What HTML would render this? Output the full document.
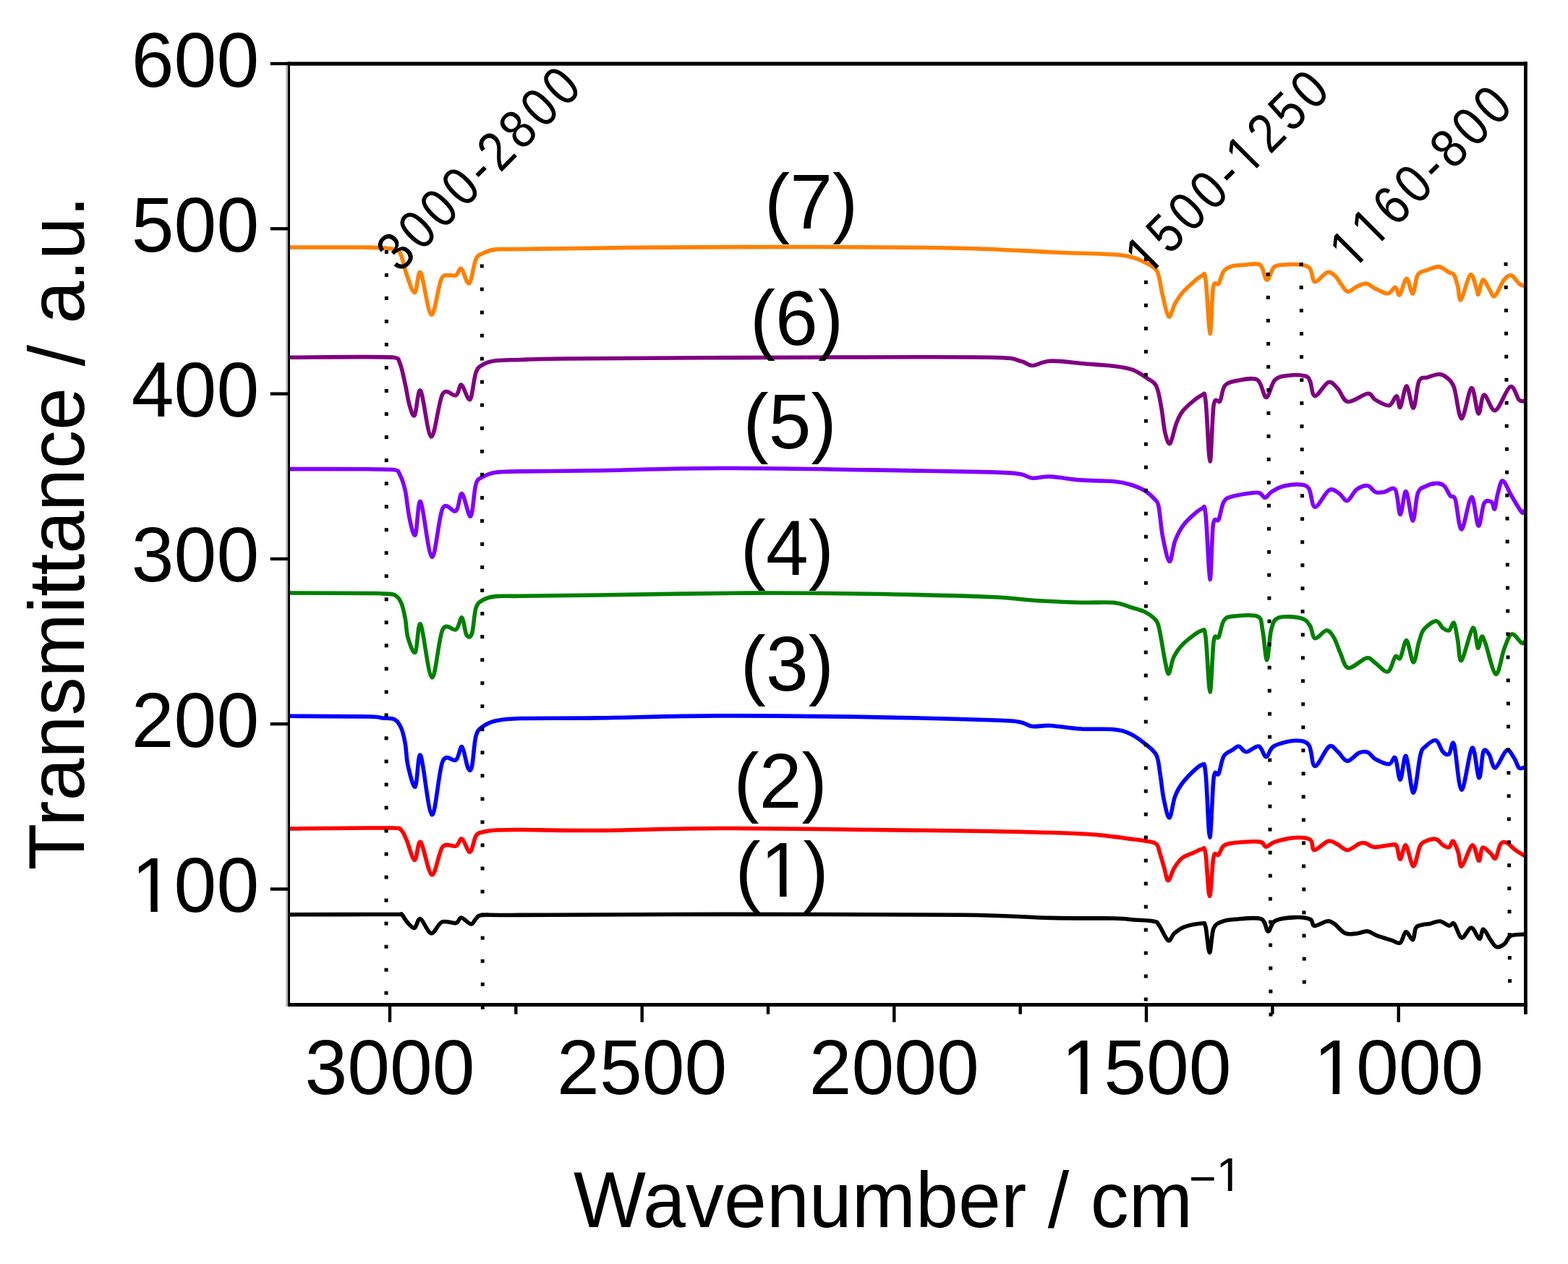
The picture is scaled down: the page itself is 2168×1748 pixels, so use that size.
<!DOCTYPE html><html><head><meta charset="utf-8"><title>FTIR spectra</title>
<style>html,body{margin:0;padding:0;background:#fff;}svg{display:block;}text{font-kerning:none;}</style></head><body>
<svg width="2168" height="1748" viewBox="0 0 2168 1748">
<defs><clipPath id="c1" clipPathUnits="userSpaceOnUse"><path clip-rule="evenodd" d="M-5,-137.4h245.1v190.3h-245.1zM6.74,-8.50H26.58V1.5H6.74zM35.92,-8.50H54.93V1.5H35.92z"/></clipPath><clipPath id="c2" clipPathUnits="userSpaceOnUse"><path clip-rule="evenodd" d="M-5,-137.4h245.1v190.3h-245.1zM6.74,-8.50H26.58V1.5H6.74zM35.92,-8.50H54.93V1.5H35.92z"/></clipPath><clipPath id="c3" clipPathUnits="userSpaceOnUse"><path clip-rule="evenodd" d="M-5,-137.4h186.4v190.3h-186.4zM6.74,-8.50H26.58V1.5H6.74zM35.92,-8.50H54.93V1.5H35.92z"/></clipPath><clipPath id="c4" clipPathUnits="userSpaceOnUse"><path clip-rule="evenodd" d="M-5,-84.5h46.1v117.0h-46.1zM3.76,-5.46H16.35V1.5H3.76zM22.09,-5.46H34.17V1.5H22.09z"/></clipPath><clipPath id="c5" clipPathUnits="userSpaceOnUse"><path clip-rule="evenodd" d="M-5,-137.4h139.2v190.3h-139.2zM41.94,-8.50H61.78V1.5H41.94zM71.12,-8.50H90.13V1.5H71.12z"/></clipPath><clipPath id="c6" clipPathUnits="userSpaceOnUse"><path clip-rule="evenodd" d="M-5,-98.8h435.4v136.8h-435.4zM4.57,-6.28H19.11V1.5H4.57zM25.83,-6.28H39.78V1.5H25.83zM233.35,-6.28H247.89V1.5H233.35zM254.61,-6.28H268.56V1.5H254.61z"/></clipPath><clipPath id="c7" clipPathUnits="userSpaceOnUse"><path clip-rule="evenodd" d="M-5,-98.8h386.2v136.8h-386.2zM4.57,-6.28H19.11V1.5H4.57zM25.83,-6.28H39.78V1.5H25.83zM53.71,-6.28H68.26V1.5H53.71zM74.98,-6.28H88.93V1.5H74.98z"/></clipPath></defs>
<rect width="2168" height="1748" fill="#fff"/>
<g fill="none" stroke-width="5.6" stroke-linejoin="round" stroke-linecap="round">
<path d="M401.0,1264.7C426.3,1264.7 527.2,1264.5 553.0,1264.5C556.0,1264.5 554.2,1263.1 556.0,1265.0C557.8,1266.9 560.6,1272.8 563.5,1275.8C566.4,1278.8 570.2,1284.1 573.2,1283.2C576.2,1282.3 577.5,1269.3 581.3,1270.6C585.1,1271.8 591.2,1290.0 596.2,1290.7C601.2,1291.4 605.3,1277.4 611.0,1275.0C616.7,1272.6 625.9,1277.5 630.4,1276.5C634.9,1275.5 634.3,1268.8 637.8,1269.0C641.3,1269.2 647.7,1277.8 651.2,1278.0C654.7,1278.2 655.9,1272.0 658.6,1269.9C661.3,1267.8 658.6,1266.2 667.5,1265.4C677.7,1264.7 667.5,1265.6 720.0,1265.4C774.2,1265.2 891.4,1264.4 992.6,1264.4C1093.8,1264.4 1250.3,1264.4 1327.0,1265.2C1403.7,1266.0 1417.0,1268.6 1452.5,1269.4C1488.0,1270.2 1520.8,1269.6 1540.0,1270.0C1559.2,1270.4 1558.6,1271.3 1567.9,1272.0C1577.2,1272.7 1589.9,1272.9 1595.7,1274.2C1601.5,1275.5 1599.5,1275.3 1602.7,1279.7C1606.0,1284.1 1611.7,1298.7 1615.2,1300.6C1618.7,1302.5 1619.9,1294.0 1623.6,1290.9C1627.3,1287.8 1631.2,1284.1 1637.5,1281.8C1643.8,1279.5 1656.3,1277.1 1661.2,1277.0C1666.1,1276.9 1664.9,1274.4 1666.8,1281.1C1668.7,1287.8 1670.5,1316.9 1672.4,1317.4C1674.3,1317.9 1675.0,1291.1 1678.0,1283.9C1681.0,1276.7 1685.6,1276.3 1690.5,1274.2C1695.4,1272.1 1698.4,1272.0 1707.2,1271.4C1716.0,1270.8 1735.7,1267.9 1743.4,1270.7C1751.1,1273.5 1749.9,1287.6 1753.2,1288.1C1756.5,1288.6 1756.7,1276.8 1763.0,1273.5C1769.3,1270.2 1782.7,1268.9 1790.8,1268.6C1798.9,1268.2 1807.3,1269.4 1811.7,1271.4C1816.1,1273.4 1813.4,1280.0 1817.3,1280.4C1821.2,1280.8 1830.4,1274.5 1835.0,1274.0C1839.6,1273.5 1840.6,1274.6 1844.8,1277.4C1849.0,1280.2 1854.8,1288.5 1860.2,1290.7C1865.6,1292.9 1871.8,1291.2 1876.9,1290.7C1882.0,1290.2 1886.2,1287.3 1890.8,1287.9C1895.4,1288.5 1899.1,1292.1 1904.7,1294.2C1910.3,1296.3 1919.1,1298.8 1924.3,1300.4C1929.5,1302.0 1932.8,1305.9 1936.1,1303.9C1939.3,1301.9 1940.9,1289.3 1943.8,1288.6C1946.7,1287.9 1951.2,1300.6 1953.5,1299.7C1955.8,1298.8 1955.4,1286.5 1957.7,1283.0C1960.0,1279.5 1964.2,1279.7 1967.4,1278.8C1970.7,1277.9 1973.2,1278.2 1977.2,1277.4C1981.2,1276.6 1986.7,1273.5 1991.1,1274.0C1995.5,1274.5 2000.5,1279.6 2003.7,1280.2C2007.0,1280.8 2007.7,1274.6 2010.6,1277.4C2013.5,1280.2 2017.1,1296.1 2021.1,1297.0C2025.0,1297.9 2030.2,1282.8 2034.3,1283.0C2038.4,1283.2 2042.7,1298.0 2045.5,1298.3C2048.3,1298.6 2048.4,1284.9 2051.0,1285.1C2053.6,1285.3 2057.8,1295.6 2060.8,1299.7C2063.8,1303.8 2065.9,1308.6 2069.2,1309.5C2072.4,1310.4 2077.1,1307.8 2080.3,1305.3C2083.6,1302.8 2084.1,1296.4 2088.7,1294.2C2093.3,1292.0 2104.8,1292.4 2108.0,1292.1" stroke="#000000"/>
<path d="M401.0,1146.0C424.8,1145.8 518.2,1144.7 543.8,1145.0C554.8,1145.3 551.7,1145.2 554.8,1148.0C557.9,1150.8 559.1,1154.9 562.2,1161.8C565.3,1168.7 570.1,1189.0 573.3,1189.4C576.5,1189.9 577.6,1161.1 581.6,1164.5C585.6,1167.9 592.1,1208.6 597.2,1209.7C602.3,1210.8 606.5,1177.6 612.0,1171.0C617.5,1164.4 625.9,1171.8 630.4,1170.0C634.9,1168.2 635.5,1158.6 638.7,1160.0C641.9,1161.4 646.6,1179.0 649.8,1178.3C653.0,1177.6 655.1,1160.6 658.0,1156.0C660.9,1151.4 662.7,1152.0 667.3,1150.7C671.9,1149.4 676.9,1148.5 685.7,1148.0C694.5,1147.5 696.7,1147.4 720.0,1147.5C743.3,1147.6 780.0,1148.8 825.4,1148.5C870.8,1148.2 929.9,1145.7 992.6,1145.5C1055.3,1145.3 1139.0,1146.8 1201.7,1147.5C1264.4,1148.2 1320.1,1148.6 1368.9,1149.5C1417.7,1150.4 1465.8,1151.7 1494.3,1153.0C1522.8,1154.3 1528.9,1155.9 1540.0,1157.1C1551.1,1158.2 1553.9,1159.0 1560.9,1159.9C1567.9,1160.8 1575.5,1161.5 1581.8,1162.7C1588.1,1163.9 1594.8,1163.9 1598.5,1166.9C1602.2,1169.9 1602.1,1175.2 1604.0,1180.8C1605.9,1186.4 1607.8,1194.1 1609.7,1200.3C1611.6,1206.5 1612.9,1217.7 1615.2,1217.7C1617.5,1217.7 1620.3,1205.5 1623.6,1200.3C1626.8,1195.1 1630.0,1190.0 1634.7,1186.4C1639.4,1182.8 1647.1,1180.7 1651.5,1178.7C1655.9,1176.7 1658.7,1174.4 1661.2,1174.5C1663.8,1174.6 1664.9,1168.6 1666.8,1179.4C1668.7,1190.2 1670.5,1238.4 1672.4,1239.3C1674.3,1240.2 1675.9,1194.5 1678.0,1185.0C1680.1,1175.5 1682.6,1184.8 1684.9,1182.2C1687.2,1179.7 1688.2,1172.5 1691.9,1169.7C1695.6,1166.9 1698.9,1166.4 1707.2,1165.5C1715.5,1164.6 1734.8,1163.2 1742.0,1164.1C1749.2,1165.0 1746.9,1171.0 1750.4,1171.0C1753.9,1171.0 1756.3,1166.2 1763.0,1164.1C1769.7,1162.0 1782.7,1159.0 1790.8,1158.5C1798.9,1158.0 1807.3,1158.5 1811.7,1161.3C1816.1,1164.1 1813.2,1175.2 1817.3,1175.5C1821.4,1175.8 1831.2,1164.5 1836.5,1163.2C1841.8,1161.9 1844.6,1165.3 1849.0,1167.4C1853.4,1169.5 1857.9,1175.8 1863.0,1175.7C1868.1,1175.6 1875.5,1168.3 1879.7,1166.7C1883.9,1165.1 1884.5,1165.2 1888.0,1166.0C1891.5,1166.8 1894.3,1171.2 1900.6,1171.6C1906.9,1171.9 1920.5,1168.3 1925.6,1168.1C1930.7,1167.9 1929.5,1166.8 1931.2,1170.2C1933.0,1173.6 1934.0,1188.5 1936.1,1188.3C1938.2,1188.1 1940.8,1167.2 1943.8,1168.8C1946.8,1170.4 1951.0,1197.8 1954.2,1198.0C1957.5,1198.2 1960.4,1176.0 1963.3,1170.2C1966.2,1164.4 1967.9,1164.8 1971.6,1163.2C1975.3,1161.6 1981.6,1159.5 1985.6,1160.4C1989.5,1161.3 1992.3,1166.9 1995.3,1168.8C1998.3,1170.7 2001.4,1172.5 2003.7,1171.6C2006.0,1170.7 2007.1,1162.0 2009.2,1163.2C2011.3,1164.4 2014.2,1172.7 2016.2,1178.5C2018.2,1184.3 2017.8,1199.6 2021.1,1198.0C2024.3,1196.4 2031.8,1170.1 2035.7,1168.8C2039.7,1167.5 2042.5,1189.8 2044.8,1190.4C2047.1,1191.0 2047.0,1174.0 2049.7,1172.3C2052.4,1170.5 2057.8,1177.5 2060.8,1179.9C2063.8,1182.3 2065.5,1189.0 2067.8,1186.9C2070.1,1184.8 2072.1,1171.0 2074.7,1167.4C2077.2,1163.8 2079.6,1163.9 2083.1,1165.3C2086.6,1166.7 2091.4,1172.7 2095.6,1175.7C2099.8,1178.7 2105.9,1182.1 2108.0,1183.4" stroke="#FF0000"/>
<path d="M401.0,990.3C419.2,990.4 488.7,990.5 510.0,991.0C529.0,991.5 523.1,992.3 529.0,993.0C534.9,993.7 541.3,992.7 545.6,995.0C549.9,997.3 552.3,1001.3 554.8,1007.0C557.3,1012.7 558.9,1020.4 560.4,1029.0C561.9,1037.6 561.7,1048.7 564.0,1058.5C566.3,1068.3 571.3,1090.3 574.2,1088.0C577.1,1085.7 577.8,1038.2 581.6,1044.7C585.4,1051.2 592.1,1125.3 597.2,1126.7C602.3,1128.1 606.5,1065.6 612.0,1053.0C617.5,1040.4 625.9,1054.4 630.4,1051.0C634.9,1047.6 635.9,1030.9 638.7,1032.7C641.5,1034.5 644.7,1057.5 647.0,1062.0C649.3,1066.5 650.7,1067.3 652.5,1060.0C654.3,1052.7 655.5,1027.2 658.0,1018.0C660.5,1008.8 662.7,1008.5 667.3,1005.0C671.9,1001.5 676.9,998.7 685.7,996.8C694.5,994.9 696.7,994.1 720.0,993.5C743.3,992.9 780.0,993.5 825.4,992.9C870.8,992.3 929.9,990.1 992.6,989.9C1055.3,989.7 1139.0,990.6 1201.7,991.6C1264.4,992.6 1334.2,994.6 1368.9,995.8C1403.6,996.9 1400.2,997.0 1410.0,998.5C1419.8,1000.0 1420.3,1003.7 1427.4,1004.5C1434.5,1005.3 1441.3,1002.9 1452.5,1003.5C1463.7,1004.1 1479.7,1007.1 1494.3,1008.0C1508.9,1008.9 1528.6,1007.6 1540.0,1008.7C1551.4,1009.8 1555.3,1011.5 1562.5,1014.8C1569.7,1018.1 1577.2,1023.7 1583.2,1028.6C1589.2,1033.5 1595.3,1037.3 1598.8,1044.2C1602.3,1051.1 1602.3,1059.9 1604.0,1070.0C1605.7,1080.1 1606.8,1094.4 1609.0,1104.6C1611.2,1114.8 1614.3,1131.6 1616.9,1131.0C1619.5,1130.4 1621.4,1109.6 1624.7,1101.2C1628.0,1092.8 1630.8,1087.6 1636.8,1080.4C1642.8,1073.2 1656.0,1059.7 1661.0,1058.0C1666.0,1056.3 1665.0,1053.3 1667.0,1070.0C1669.0,1086.7 1670.8,1157.1 1672.7,1158.0C1674.6,1158.9 1676.2,1090.0 1678.2,1075.3C1680.2,1060.6 1682.7,1074.9 1685.0,1070.0C1687.3,1065.1 1688.8,1051.4 1692.0,1045.9C1695.2,1040.4 1700.5,1039.5 1704.0,1037.2C1707.5,1034.9 1709.6,1031.6 1712.8,1032.0C1716.0,1032.4 1718.6,1039.8 1723.2,1039.8C1727.8,1039.8 1735.9,1030.8 1740.5,1032.0C1745.1,1033.2 1747.3,1046.8 1750.8,1046.8C1754.2,1046.8 1754.6,1035.8 1761.2,1032.0C1767.8,1028.2 1782.5,1024.6 1790.6,1024.3C1798.7,1024.0 1805.0,1024.4 1809.6,1030.3C1814.2,1036.2 1813.5,1059.1 1818.2,1059.5C1822.9,1059.9 1832.3,1035.8 1837.6,1032.5C1842.8,1029.2 1845.5,1036.2 1849.7,1039.5C1853.9,1042.8 1857.8,1052.1 1862.7,1052.4C1867.6,1052.7 1874.3,1043.2 1879.1,1041.2C1883.8,1039.2 1887.5,1038.9 1891.2,1040.3C1895.0,1041.7 1896.7,1047.1 1901.6,1049.8C1906.5,1052.5 1916.0,1057.0 1920.6,1056.7C1925.2,1056.4 1926.6,1044.5 1929.2,1048.1C1931.8,1051.7 1933.6,1078.7 1936.1,1078.3C1938.6,1077.9 1941.0,1042.5 1944.0,1045.5C1947.0,1048.5 1951.0,1096.7 1954.3,1096.5C1957.6,1096.3 1961.1,1055.3 1963.8,1044.6C1966.5,1033.9 1967.1,1036.0 1970.7,1032.5C1974.3,1029.0 1981.4,1022.7 1985.4,1023.9C1989.4,1025.1 1991.9,1036.3 1994.9,1039.5C1997.9,1042.7 2000.9,1044.6 2003.5,1042.9C2006.1,1041.2 2007.5,1020.9 2010.4,1029.1C2013.3,1037.3 2016.6,1091.3 2020.8,1092.2C2025.0,1093.1 2031.5,1037.0 2035.5,1034.3C2039.5,1031.5 2042.4,1074.8 2045.0,1075.7C2047.6,1076.6 2048.7,1045.0 2051.0,1039.5C2053.3,1034.0 2056.1,1039.2 2058.8,1042.9C2061.6,1046.6 2063.5,1062.8 2067.5,1061.9C2071.5,1061.0 2078.7,1040.0 2083.0,1037.7C2087.3,1035.4 2090.5,1044.1 2093.4,1048.1C2096.3,1052.1 2097.9,1059.8 2100.3,1061.9C2102.7,1064.1 2106.7,1061.2 2108.0,1061.0" stroke="#0000FF"/>
<path d="M401.0,820.0C420.8,820.1 498.7,820.3 520.0,820.5C529.0,820.7 524.7,820.6 529.0,821.0C533.3,821.4 541.3,820.7 545.6,822.8C549.9,824.9 552.3,828.3 554.8,833.8C557.3,839.3 558.9,848.0 560.4,856.0C561.9,864.0 561.7,874.0 564.0,881.7C566.3,889.4 571.3,905.1 574.2,902.0C577.1,898.9 577.8,857.5 581.6,863.3C585.4,869.1 592.1,935.8 597.2,937.0C602.3,938.2 606.5,881.8 612.0,870.7C617.5,859.7 625.9,873.5 630.4,870.7C634.9,867.9 636.3,852.8 638.7,854.0C641.1,855.2 642.7,874.3 645.0,878.0C647.3,881.7 650.3,882.4 652.5,876.2C654.7,870.0 655.5,848.7 658.0,841.0C660.5,833.3 662.7,832.7 667.3,830.0C671.9,827.3 676.9,825.6 685.7,824.6C694.5,823.6 696.7,824.6 720.0,824.3C743.3,824.0 773.0,823.7 825.4,823.0C877.8,822.3 971.7,820.4 1034.4,820.1C1097.1,819.8 1146.0,820.4 1201.7,821.3C1257.5,822.2 1330.6,824.0 1368.9,825.5C1407.2,827.0 1410.7,829.2 1431.6,830.5C1452.5,831.8 1476.2,832.7 1494.3,833.2C1512.4,833.7 1528.6,832.4 1540.0,833.4C1551.4,834.4 1555.3,837.3 1562.5,839.5C1569.7,841.7 1577.2,843.2 1583.2,846.4C1589.2,849.6 1595.3,853.6 1598.8,858.5C1602.3,863.4 1602.0,866.5 1604.0,875.7C1606.0,884.9 1608.8,904.4 1610.8,913.8C1612.8,923.1 1614.0,932.7 1616.0,931.8C1618.0,930.9 1619.5,915.6 1623.0,908.6C1626.5,901.6 1630.5,895.7 1636.8,889.6C1643.1,883.5 1656.0,873.7 1661.0,872.3C1666.0,870.9 1665.0,866.9 1667.0,881.0C1669.0,895.1 1671.1,956.0 1673.0,956.9C1674.9,957.8 1676.2,898.8 1678.2,886.1C1680.2,873.5 1682.7,885.6 1685.0,881.0C1687.3,876.4 1688.8,863.3 1692.0,858.5C1695.2,853.7 1696.2,853.4 1704.0,852.4C1711.8,851.4 1731.8,849.4 1738.7,852.4C1745.6,855.4 1743.4,860.5 1745.6,870.6C1747.8,880.7 1749.7,912.8 1751.7,912.8C1753.7,912.8 1755.0,880.4 1757.7,870.6C1760.4,860.8 1761.1,856.8 1768.0,854.2C1774.9,851.6 1792.0,853.1 1799.2,855.0C1806.4,856.9 1808.1,860.8 1811.3,865.4C1814.5,870.0 1814.4,881.6 1818.2,882.7C1822.0,883.8 1829.8,871.9 1834.2,871.8C1838.6,871.7 1841.4,877.0 1844.6,882.2C1847.8,887.4 1849.9,896.1 1853.2,903.0C1856.5,909.9 1858.4,922.6 1864.4,923.7C1870.5,924.9 1883.3,911.0 1889.5,909.9C1895.7,908.8 1896.7,913.6 1901.6,916.8C1906.5,920.0 1914.3,930.3 1918.9,928.9C1923.5,927.5 1926.3,911.3 1929.2,908.1C1932.1,904.9 1933.5,913.6 1936.1,909.9C1938.7,906.2 1941.8,884.7 1944.8,885.7C1947.8,886.7 1951.4,915.6 1954.3,915.9C1957.2,916.2 1959.5,895.0 1962.0,887.4C1964.5,879.8 1965.1,874.9 1969.0,870.1C1972.9,865.4 1981.1,859.2 1985.4,858.9C1989.7,858.6 1991.9,866.2 1994.9,868.4C1997.9,870.5 2000.9,872.9 2003.5,871.8C2006.1,870.6 2008.4,859.2 2010.4,861.5C2012.4,863.8 2013.9,877.1 2015.6,885.7C2017.3,894.3 2017.3,916.2 2020.8,913.3C2024.3,910.4 2032.7,871.3 2036.4,868.4C2040.2,865.5 2041.3,894.0 2043.3,896.0C2045.3,898.0 2046.8,881.6 2048.5,880.5C2050.2,879.4 2050.3,880.5 2053.6,889.1C2056.9,897.7 2064.0,930.8 2068.3,932.3C2072.6,933.8 2076.0,907.0 2079.6,897.8C2083.2,888.6 2086.0,878.5 2090.0,877.0C2094.0,875.5 2100.8,887.4 2103.8,889.1C2106.8,890.8 2107.3,887.7 2108.0,887.4" stroke="#008000"/>
<path d="M401.0,648.6C424.8,648.8 518.5,648.1 543.8,649.5C553.0,650.9 550.2,652.0 553.0,656.9C555.8,661.8 558.2,669.2 560.4,679.0C562.6,688.8 563.7,705.8 566.0,715.9C568.3,726.0 571.6,743.5 574.2,739.8C576.8,736.1 577.8,688.6 581.6,693.7C585.4,698.8 592.1,768.7 597.2,770.2C602.3,771.8 606.5,713.6 612.0,703.0C617.5,692.4 625.9,710.0 630.4,706.6C634.9,703.2 635.3,681.5 638.7,682.7C642.1,683.9 647.5,716.1 650.7,714.0C653.9,711.9 655.2,678.9 658.0,669.8C660.8,660.7 662.7,662.4 667.3,659.6C671.9,656.8 676.9,654.5 685.7,653.2C694.5,651.9 696.7,652.3 720.0,651.9C743.3,651.5 780.0,651.5 825.4,650.8C870.8,650.1 929.9,647.6 992.6,647.5C1055.3,647.4 1139.0,649.0 1201.7,649.9C1264.4,650.8 1334.2,652.0 1368.9,652.9C1403.6,653.8 1400.2,654.1 1410.0,655.5C1419.8,656.9 1420.3,660.6 1427.4,661.2C1434.5,661.8 1441.3,658.7 1452.5,659.1C1463.7,659.5 1479.7,662.8 1494.3,663.9C1508.9,665.0 1528.6,664.8 1540.0,665.8C1551.4,666.8 1555.3,667.8 1562.5,670.0C1569.7,672.2 1577.5,675.3 1583.2,678.8C1589.0,682.3 1593.8,687.1 1597.0,690.8C1600.2,694.5 1600.5,692.8 1602.2,701.2C1603.9,709.6 1605.0,728.5 1607.4,741.0C1609.9,753.5 1614.0,775.2 1616.9,776.4C1619.8,777.5 1621.4,756.4 1624.7,747.9C1628.0,739.4 1630.8,732.8 1636.8,725.4C1642.8,718.0 1656.0,706.1 1661.0,703.8C1666.0,701.5 1665.0,695.3 1667.0,711.6C1669.0,727.9 1671.3,799.1 1673.0,801.4C1674.7,803.7 1675.4,739.2 1677.4,725.4C1679.4,711.6 1682.6,723.7 1685.0,718.5C1687.4,713.3 1688.8,699.6 1692.0,694.3C1695.2,689.0 1696.2,688.7 1704.0,686.5C1711.8,684.3 1731.2,681.0 1738.7,681.3C1746.2,681.6 1745.8,688.4 1749.0,688.3C1752.2,688.2 1753.7,683.1 1757.7,680.5C1761.8,677.9 1767.0,674.5 1773.3,672.7C1779.6,671.0 1789.7,669.6 1795.7,670.0C1801.8,670.4 1805.8,670.1 1809.6,675.3C1813.3,680.5 1813.5,700.8 1818.2,701.2C1822.9,701.6 1832.0,681.1 1837.6,677.9C1843.1,674.7 1847.3,679.8 1851.5,682.2C1855.7,684.7 1858.7,693.5 1862.7,692.6C1866.7,691.7 1871.0,680.5 1875.7,677.0C1880.5,673.5 1886.9,671.2 1891.2,671.8C1895.5,672.4 1897.8,679.0 1901.6,680.5C1905.3,682.0 1909.1,681.1 1913.7,680.5C1918.3,679.9 1925.5,671.8 1929.2,677.0C1932.9,682.2 1933.6,711.2 1936.1,711.6C1938.6,712.0 1941.1,678.2 1944.0,679.6C1946.9,681.0 1950.7,719.8 1953.4,720.2C1956.1,720.6 1957.4,690.1 1960.3,682.2C1963.2,674.3 1966.4,675.0 1970.7,672.7C1975.0,670.4 1982.0,668.5 1986.3,668.4C1990.6,668.2 1993.4,668.9 1996.6,671.8C1999.8,674.7 2002.7,682.5 2005.3,685.7C2007.9,688.9 2009.6,683.0 2012.2,690.8C2014.8,698.6 2017.1,732.9 2020.8,732.3C2024.5,731.7 2030.7,688.3 2034.6,687.4C2038.5,686.5 2041.2,725.7 2044.1,727.1C2047.0,728.5 2049.0,701.5 2052.0,696.0C2055.0,690.5 2059.9,693.0 2062.3,694.3C2064.7,695.6 2065.2,705.8 2066.6,703.8C2068.0,701.8 2069.1,688.7 2071.0,682.2C2072.9,675.7 2074.7,664.3 2077.8,664.9C2081.0,665.5 2085.6,678.5 2089.9,685.7C2094.2,692.9 2100.8,704.7 2103.8,708.1C2106.8,711.5 2107.3,706.7 2108.0,706.4" stroke="#8000FF"/>
<path d="M401.0,494.2C424.8,494.2 518.5,492.8 543.8,494.2C553.0,495.6 550.2,496.2 553.0,502.5C555.8,508.8 558.2,522.5 560.4,532.0C562.6,541.5 563.9,552.5 566.0,559.6C568.1,566.7 570.7,577.6 573.3,574.4C575.9,571.2 577.8,535.4 581.6,540.3C585.4,545.2 591.2,603.1 596.3,603.9C601.4,604.7 606.3,554.4 612.0,544.9C617.7,535.4 626.1,548.9 630.4,546.7C634.7,544.6 635.0,531.4 637.8,532.0C640.6,532.6 644.7,547.6 647.0,550.4C649.3,553.2 649.8,554.4 651.6,548.6C653.4,542.8 655.4,522.8 658.0,515.4C660.6,508.0 662.7,507.1 667.3,504.3C671.9,501.5 676.9,499.9 685.7,498.8C694.5,497.7 703.7,498.0 720.0,497.5C736.3,497.0 720.0,496.6 783.6,496.0C849.9,495.4 1020.4,494.5 1118.0,494.2C1215.6,493.9 1320.2,493.4 1369.0,494.2C1410.7,495.0 1401.0,497.3 1410.7,499.2C1420.4,501.1 1420.4,505.5 1427.4,505.5C1434.4,505.5 1440.4,499.6 1452.5,499.2C1464.6,498.8 1485.4,501.8 1500.0,503.0C1514.6,504.2 1529.0,504.9 1540.0,506.3C1551.0,507.7 1558.2,508.5 1566.0,511.4C1573.8,514.3 1581.2,519.8 1586.7,523.5C1592.2,527.2 1595.6,527.3 1598.8,533.9C1602.0,540.5 1603.7,552.6 1605.7,563.3C1607.7,573.9 1608.8,589.4 1610.8,597.8C1612.8,606.1 1615.2,615.4 1617.8,613.4C1620.4,611.4 1623.2,593.5 1626.4,585.7C1629.6,577.9 1631.0,573.2 1636.8,566.7C1642.6,560.2 1656.0,548.9 1661.0,546.9C1666.0,544.9 1665.0,539.4 1667.0,554.6C1669.0,569.8 1671.1,637.1 1673.0,638.0C1674.9,638.9 1675.9,573.7 1678.2,559.8C1680.5,545.9 1684.3,559.1 1686.9,554.6C1689.5,550.1 1689.5,537.8 1693.8,533.0C1698.1,528.2 1705.3,527.3 1712.8,526.0C1720.3,524.7 1732.4,521.4 1738.7,525.3C1745.0,529.2 1746.8,549.5 1750.8,549.5C1754.8,549.5 1757.7,530.3 1762.9,525.3C1768.1,520.2 1775.0,520.1 1781.9,519.2C1788.8,518.3 1799.5,518.7 1804.4,520.0C1809.3,521.3 1809.0,522.4 1811.3,527.0C1813.6,531.6 1814.0,547.4 1818.2,547.7C1822.5,548.0 1831.5,530.4 1836.8,528.7C1842.0,527.0 1845.2,532.9 1849.7,537.4C1854.2,541.9 1856.7,554.4 1863.6,555.5C1870.5,556.6 1884.9,544.7 1891.2,544.3C1897.5,543.9 1896.7,550.2 1901.6,552.9C1906.5,555.6 1915.7,561.6 1920.6,560.7C1925.5,559.8 1928.4,547.3 1931.0,547.7C1933.6,548.1 1933.8,565.6 1936.1,563.3C1938.4,561.0 1941.8,533.8 1944.8,533.9C1947.8,534.0 1951.4,565.4 1954.3,564.2C1957.2,563.1 1958.7,534.1 1962.0,527.0C1965.3,519.9 1969.6,523.4 1974.2,521.8C1978.8,520.2 1985.4,517.5 1989.7,517.5C1994.0,517.5 1996.5,518.8 2000.0,521.8C2003.5,524.8 2006.9,526.1 2010.4,535.6C2013.9,545.1 2016.8,578.6 2020.8,578.8C2024.8,578.9 2030.7,537.6 2034.6,536.5C2038.5,535.4 2041.2,570.3 2044.1,571.9C2047.0,573.5 2048.1,546.7 2052.0,546.0C2055.9,545.3 2061.5,569.5 2067.5,567.6C2073.5,565.7 2082.7,537.2 2088.2,534.8C2093.7,532.3 2097.0,549.6 2100.3,552.9C2103.6,556.2 2106.7,554.3 2108.0,554.6" stroke="#800080"/>
<path d="M401.0,342.0C409.2,342.0 433.5,342.0 450.0,342.0C466.5,342.0 487.5,341.9 500.0,342.0C512.5,342.1 519.5,342.3 525.0,342.5C530.5,342.7 529.5,342.6 533.0,343.0C536.5,343.4 542.7,343.9 546.0,345.0C549.3,346.1 550.9,346.0 553.0,349.5C555.1,353.0 557.0,361.1 558.5,366.0C560.0,370.9 559.5,372.5 562.0,379.0C564.5,385.5 570.0,405.1 573.3,404.8C576.6,404.5 577.8,371.9 581.6,377.0C585.4,382.1 591.6,433.6 596.3,435.2C601.0,436.8 605.9,395.5 610.0,386.4C614.1,377.3 617.6,381.7 621.0,380.8C624.4,379.9 627.6,382.3 630.4,380.8C633.2,379.3 635.2,370.1 637.8,371.6C640.4,373.1 643.9,387.2 646.0,390.0C648.1,392.8 648.7,393.4 650.7,388.2C652.7,383.0 655.2,365.0 658.0,358.7C660.8,352.4 662.7,352.7 667.3,350.4C671.9,348.1 676.9,345.9 685.7,344.9C694.5,343.9 687.6,344.9 720.0,344.5C752.4,344.1 813.5,342.9 879.8,342.4C946.1,341.9 1043.5,341.4 1118.0,341.5C1192.5,341.6 1271.2,342.0 1327.0,343.2C1382.8,344.4 1417.0,347.2 1452.5,348.7C1488.0,350.2 1521.1,350.8 1540.0,352.0C1558.9,353.2 1558.8,354.2 1566.0,356.0C1573.2,357.8 1577.8,360.2 1583.0,362.8C1588.2,365.4 1593.8,368.3 1597.0,371.5C1600.2,374.7 1600.5,375.8 1602.2,381.8C1603.9,387.9 1605.1,398.4 1607.4,407.8C1609.7,417.2 1613.1,436.0 1616.0,438.0C1618.9,440.0 1621.2,425.8 1624.7,419.9C1628.2,414.0 1630.8,409.0 1636.8,402.6C1642.8,396.2 1656.0,384.4 1661.0,381.8C1666.0,379.2 1665.0,373.8 1667.0,387.0C1669.0,400.2 1671.3,459.6 1673.0,461.3C1674.7,463.0 1675.4,408.9 1677.4,397.4C1679.4,385.9 1682.6,395.9 1685.0,392.2C1687.4,388.5 1688.8,379.0 1692.0,375.0C1695.2,371.0 1699.1,369.4 1704.0,368.0C1708.9,366.6 1715.0,366.6 1721.4,366.3C1727.8,366.0 1737.2,362.9 1742.2,366.3C1747.2,369.8 1748.5,386.4 1751.7,387.0C1754.9,387.6 1757.6,373.1 1761.2,369.7C1764.8,366.2 1767.0,366.9 1773.3,366.3C1779.6,365.7 1792.9,365.4 1799.2,366.3C1805.5,367.2 1808.1,367.6 1811.3,371.5C1814.5,375.4 1814.2,388.7 1818.2,389.6C1822.2,390.5 1830.3,378.0 1835.0,376.7C1839.7,375.4 1843.0,378.9 1846.3,381.8C1849.6,384.7 1852.1,390.4 1855.0,394.0C1857.9,397.6 1860.1,403.0 1863.6,403.4C1867.0,403.8 1871.4,398.4 1875.7,396.5C1880.0,394.6 1885.2,391.8 1889.5,392.2C1893.8,392.6 1896.7,396.8 1901.6,399.1C1906.5,401.4 1914.3,406.3 1918.9,406.0C1923.5,405.7 1926.5,397.1 1929.2,397.4C1931.9,397.7 1932.7,409.8 1935.3,407.8C1937.9,405.8 1941.8,385.6 1944.8,385.3C1947.8,385.0 1950.8,406.9 1953.4,406.0C1956.0,405.1 1956.8,385.5 1960.3,380.0C1963.8,374.5 1969.3,375.1 1974.2,373.2C1979.1,371.3 1984.8,368.3 1989.7,368.9C1994.6,369.5 2000.0,374.8 2003.5,376.7C2007.0,378.6 2008.4,376.8 2010.4,380.0C2012.4,383.2 2014.0,389.9 2015.6,395.7C2017.2,401.5 2017.1,417.3 2020.0,414.7C2022.9,412.1 2029.3,382.6 2032.9,380.0C2036.5,377.4 2039.7,394.6 2041.6,399.1C2043.5,403.6 2042.7,408.9 2044.1,406.9C2045.5,404.9 2047.7,388.3 2050.2,387.0C2052.6,385.7 2056.1,395.4 2058.8,399.1C2061.5,402.9 2063.1,411.5 2066.6,409.5C2070.1,407.5 2075.7,391.8 2079.6,387.0C2083.5,382.2 2086.6,380.1 2090.0,381.0C2093.4,381.9 2097.3,389.8 2100.3,392.2C2103.3,394.6 2106.7,395.1 2108.0,395.7" stroke="#FF8000"/>
</g>
<g fill="#000">
<rect x="531.9" y="345.9" width="5" height="5"/>
<rect x="531.9" y="377.9" width="5" height="5"/>
<rect x="531.9" y="409.9" width="5" height="5"/>
<rect x="531.9" y="442.0" width="5" height="5"/>
<rect x="531.9" y="474.0" width="5" height="5"/>
<rect x="531.8" y="506.0" width="5" height="5"/>
<rect x="531.8" y="538.0" width="5" height="5"/>
<rect x="531.8" y="570.1" width="5" height="5"/>
<rect x="531.8" y="602.1" width="5" height="5"/>
<rect x="531.8" y="634.1" width="5" height="5"/>
<rect x="531.8" y="666.2" width="5" height="5"/>
<rect x="531.8" y="698.2" width="5" height="5"/>
<rect x="531.8" y="730.2" width="5" height="5"/>
<rect x="531.7" y="762.2" width="5" height="5"/>
<rect x="531.7" y="794.2" width="5" height="5"/>
<rect x="531.7" y="826.3" width="5" height="5"/>
<rect x="531.7" y="858.3" width="5" height="5"/>
<rect x="531.7" y="890.3" width="5" height="5"/>
<rect x="531.7" y="922.4" width="5" height="5"/>
<rect x="531.7" y="954.4" width="5" height="5"/>
<rect x="531.6" y="986.4" width="5" height="5"/>
<rect x="531.6" y="1018.4" width="5" height="5"/>
<rect x="531.6" y="1050.5" width="5" height="5"/>
<rect x="531.6" y="1082.5" width="5" height="5"/>
<rect x="531.6" y="1114.5" width="5" height="5"/>
<rect x="531.6" y="1146.5" width="5" height="5"/>
<rect x="531.6" y="1178.6" width="5" height="5"/>
<rect x="531.6" y="1210.6" width="5" height="5"/>
<rect x="531.5" y="1242.6" width="5" height="5"/>
<rect x="531.5" y="1274.6" width="5" height="5"/>
<rect x="531.5" y="1306.7" width="5" height="5"/>
<rect x="531.5" y="1338.7" width="5" height="5"/>
<rect x="531.5" y="1370.7" width="5" height="5"/>
<rect x="663.8" y="365.5" width="5" height="5"/>
<rect x="663.8" y="397.5" width="5" height="5"/>
<rect x="663.9" y="429.6" width="5" height="5"/>
<rect x="663.9" y="461.6" width="5" height="5"/>
<rect x="663.9" y="493.6" width="5" height="5"/>
<rect x="664.0" y="525.7" width="5" height="5"/>
<rect x="664.0" y="557.7" width="5" height="5"/>
<rect x="664.0" y="589.8" width="5" height="5"/>
<rect x="664.0" y="621.8" width="5" height="5"/>
<rect x="664.1" y="653.8" width="5" height="5"/>
<rect x="664.1" y="685.9" width="5" height="5"/>
<rect x="664.1" y="717.9" width="5" height="5"/>
<rect x="664.2" y="750.0" width="5" height="5"/>
<rect x="664.2" y="782.0" width="5" height="5"/>
<rect x="664.2" y="814.0" width="5" height="5"/>
<rect x="664.3" y="846.1" width="5" height="5"/>
<rect x="664.3" y="878.1" width="5" height="5"/>
<rect x="664.3" y="910.1" width="5" height="5"/>
<rect x="664.4" y="942.2" width="5" height="5"/>
<rect x="664.4" y="974.2" width="5" height="5"/>
<rect x="664.4" y="1006.2" width="5" height="5"/>
<rect x="664.5" y="1038.3" width="5" height="5"/>
<rect x="664.5" y="1070.3" width="5" height="5"/>
<rect x="664.5" y="1102.4" width="5" height="5"/>
<rect x="664.5" y="1134.4" width="5" height="5"/>
<rect x="664.6" y="1166.4" width="5" height="5"/>
<rect x="664.6" y="1198.5" width="5" height="5"/>
<rect x="664.6" y="1230.5" width="5" height="5"/>
<rect x="664.7" y="1262.6" width="5" height="5"/>
<rect x="664.7" y="1294.6" width="5" height="5"/>
<rect x="664.7" y="1326.6" width="5" height="5"/>
<rect x="664.8" y="1358.7" width="5" height="5"/>
<rect x="664.8" y="1390.7" width="5" height="5"/>
<rect x="1581.9" y="355.8" width="5" height="5"/>
<rect x="1581.9" y="387.8" width="5" height="5"/>
<rect x="1581.9" y="419.8" width="5" height="5"/>
<rect x="1581.9" y="451.8" width="5" height="5"/>
<rect x="1581.9" y="483.8" width="5" height="5"/>
<rect x="1581.9" y="515.8" width="5" height="5"/>
<rect x="1581.9" y="547.7" width="5" height="5"/>
<rect x="1581.9" y="579.7" width="5" height="5"/>
<rect x="1581.9" y="611.7" width="5" height="5"/>
<rect x="1581.9" y="643.7" width="5" height="5"/>
<rect x="1581.9" y="675.7" width="5" height="5"/>
<rect x="1581.9" y="707.7" width="5" height="5"/>
<rect x="1581.9" y="739.7" width="5" height="5"/>
<rect x="1581.9" y="771.7" width="5" height="5"/>
<rect x="1581.9" y="803.7" width="5" height="5"/>
<rect x="1581.9" y="835.7" width="5" height="5"/>
<rect x="1581.8" y="867.7" width="5" height="5"/>
<rect x="1581.8" y="899.6" width="5" height="5"/>
<rect x="1581.8" y="931.6" width="5" height="5"/>
<rect x="1581.8" y="963.6" width="5" height="5"/>
<rect x="1581.8" y="995.6" width="5" height="5"/>
<rect x="1581.8" y="1027.6" width="5" height="5"/>
<rect x="1581.8" y="1059.6" width="5" height="5"/>
<rect x="1581.8" y="1091.6" width="5" height="5"/>
<rect x="1581.8" y="1123.6" width="5" height="5"/>
<rect x="1581.8" y="1155.6" width="5" height="5"/>
<rect x="1581.8" y="1187.6" width="5" height="5"/>
<rect x="1581.8" y="1219.5" width="5" height="5"/>
<rect x="1581.8" y="1251.5" width="5" height="5"/>
<rect x="1581.8" y="1283.5" width="5" height="5"/>
<rect x="1581.8" y="1315.5" width="5" height="5"/>
<rect x="1581.8" y="1347.5" width="5" height="5"/>
<rect x="1581.8" y="1379.5" width="5" height="5"/>
<rect x="1750.7" y="376.9" width="5" height="5"/>
<rect x="1750.8" y="408.9" width="5" height="5"/>
<rect x="1750.9" y="440.9" width="5" height="5"/>
<rect x="1751.1" y="472.9" width="5" height="5"/>
<rect x="1751.2" y="504.8" width="5" height="5"/>
<rect x="1751.3" y="536.8" width="5" height="5"/>
<rect x="1751.4" y="568.8" width="5" height="5"/>
<rect x="1751.5" y="600.8" width="5" height="5"/>
<rect x="1751.7" y="632.8" width="5" height="5"/>
<rect x="1751.8" y="664.8" width="5" height="5"/>
<rect x="1751.9" y="696.8" width="5" height="5"/>
<rect x="1752.0" y="728.8" width="5" height="5"/>
<rect x="1752.1" y="760.8" width="5" height="5"/>
<rect x="1752.2" y="792.7" width="5" height="5"/>
<rect x="1752.4" y="824.7" width="5" height="5"/>
<rect x="1752.5" y="856.7" width="5" height="5"/>
<rect x="1752.6" y="888.7" width="5" height="5"/>
<rect x="1752.7" y="920.7" width="5" height="5"/>
<rect x="1752.8" y="952.7" width="5" height="5"/>
<rect x="1753.0" y="984.7" width="5" height="5"/>
<rect x="1753.1" y="1016.6" width="5" height="5"/>
<rect x="1753.2" y="1048.6" width="5" height="5"/>
<rect x="1753.3" y="1080.6" width="5" height="5"/>
<rect x="1753.4" y="1112.6" width="5" height="5"/>
<rect x="1753.5" y="1144.6" width="5" height="5"/>
<rect x="1753.7" y="1176.6" width="5" height="5"/>
<rect x="1753.8" y="1208.6" width="5" height="5"/>
<rect x="1753.9" y="1240.6" width="5" height="5"/>
<rect x="1754.0" y="1272.5" width="5" height="5"/>
<rect x="1754.1" y="1304.5" width="5" height="5"/>
<rect x="1754.3" y="1336.5" width="5" height="5"/>
<rect x="1754.4" y="1368.5" width="5" height="5"/>
<rect x="1754.5" y="1400.5" width="5" height="5"/>
<rect x="1796.6" y="363.0" width="5" height="5"/>
<rect x="1796.7" y="395.0" width="5" height="5"/>
<rect x="1796.9" y="427.0" width="5" height="5"/>
<rect x="1797.0" y="459.0" width="5" height="5"/>
<rect x="1797.1" y="491.1" width="5" height="5"/>
<rect x="1797.3" y="523.1" width="5" height="5"/>
<rect x="1797.4" y="555.1" width="5" height="5"/>
<rect x="1797.5" y="587.1" width="5" height="5"/>
<rect x="1797.7" y="619.1" width="5" height="5"/>
<rect x="1797.8" y="651.1" width="5" height="5"/>
<rect x="1798.0" y="683.2" width="5" height="5"/>
<rect x="1798.1" y="715.2" width="5" height="5"/>
<rect x="1798.2" y="747.2" width="5" height="5"/>
<rect x="1798.4" y="779.2" width="5" height="5"/>
<rect x="1798.5" y="811.2" width="5" height="5"/>
<rect x="1798.6" y="843.2" width="5" height="5"/>
<rect x="1798.8" y="875.3" width="5" height="5"/>
<rect x="1798.9" y="907.3" width="5" height="5"/>
<rect x="1799.0" y="939.3" width="5" height="5"/>
<rect x="1799.2" y="971.3" width="5" height="5"/>
<rect x="1799.3" y="1003.3" width="5" height="5"/>
<rect x="1799.4" y="1035.3" width="5" height="5"/>
<rect x="1799.6" y="1067.4" width="5" height="5"/>
<rect x="1799.7" y="1099.4" width="5" height="5"/>
<rect x="1799.9" y="1131.4" width="5" height="5"/>
<rect x="1800.0" y="1163.4" width="5" height="5"/>
<rect x="1800.1" y="1195.4" width="5" height="5"/>
<rect x="1800.3" y="1227.4" width="5" height="5"/>
<rect x="1800.4" y="1259.5" width="5" height="5"/>
<rect x="1800.5" y="1291.5" width="5" height="5"/>
<rect x="1800.7" y="1323.5" width="5" height="5"/>
<rect x="1800.8" y="1355.5" width="5" height="5"/>
<rect x="2079.5" y="362.8" width="5" height="5"/>
<rect x="2079.7" y="394.8" width="5" height="5"/>
<rect x="2079.9" y="426.8" width="5" height="5"/>
<rect x="2080.0" y="458.7" width="5" height="5"/>
<rect x="2080.2" y="490.7" width="5" height="5"/>
<rect x="2080.4" y="522.7" width="5" height="5"/>
<rect x="2080.6" y="554.7" width="5" height="5"/>
<rect x="2080.7" y="586.6" width="5" height="5"/>
<rect x="2080.9" y="618.6" width="5" height="5"/>
<rect x="2081.1" y="650.6" width="5" height="5"/>
<rect x="2081.3" y="682.6" width="5" height="5"/>
<rect x="2081.5" y="714.6" width="5" height="5"/>
<rect x="2081.6" y="746.5" width="5" height="5"/>
<rect x="2081.8" y="778.5" width="5" height="5"/>
<rect x="2082.0" y="810.5" width="5" height="5"/>
<rect x="2082.2" y="842.5" width="5" height="5"/>
<rect x="2082.3" y="874.4" width="5" height="5"/>
<rect x="2082.5" y="906.4" width="5" height="5"/>
<rect x="2082.7" y="938.4" width="5" height="5"/>
<rect x="2082.9" y="970.4" width="5" height="5"/>
<rect x="2083.0" y="1002.3" width="5" height="5"/>
<rect x="2083.2" y="1034.3" width="5" height="5"/>
<rect x="2083.4" y="1066.3" width="5" height="5"/>
<rect x="2083.6" y="1098.3" width="5" height="5"/>
<rect x="2083.8" y="1130.3" width="5" height="5"/>
<rect x="2083.9" y="1162.2" width="5" height="5"/>
<rect x="2084.1" y="1194.2" width="5" height="5"/>
<rect x="2084.3" y="1226.2" width="5" height="5"/>
<rect x="2084.5" y="1258.2" width="5" height="5"/>
<rect x="2084.6" y="1290.1" width="5" height="5"/>
<rect x="2084.8" y="1322.1" width="5" height="5"/>
<rect x="2085.0" y="1354.1" width="5" height="5"/>
</g>
<g fill="#000">
<rect x="395.3" y="85.5" width="2.7" height="1306.5" fill="#b4b4b4"/>
<rect x="398" y="85.5" width="1713.8" height="5.3"/>
<rect x="398" y="1387" width="1713.8" height="5"/>
<rect x="398" y="85.5" width="3" height="1306.5"/>
<rect x="2107" y="85.5" width="4.8" height="1317.2"/>
<rect x="373.7" y="85.8" width="24.5" height="4.4"/>
<rect x="373.7" y="314.1" width="24.5" height="4.4"/>
<rect x="373.7" y="542.4" width="24.5" height="4.4"/>
<rect x="373.7" y="770.7" width="24.5" height="4.4"/>
<rect x="373.7" y="999.0" width="24.5" height="4.4"/>
<rect x="373.7" y="1227.3" width="24.5" height="4.4"/>
<rect x="536.8" y="1390" width="4.4" height="23.5"/>
<rect x="885.5" y="1390" width="4.4" height="23.5"/>
<rect x="1234.1" y="1390" width="4.4" height="23.5"/>
<rect x="1582.8" y="1390" width="4.4" height="23.5"/>
<rect x="1931.5" y="1390" width="4.4" height="23.5"/>
<rect x="711.1" y="1390" width="4.4" height="12.5"/>
<rect x="1059.8" y="1390" width="4.4" height="12.5"/>
<rect x="1408.5" y="1390" width="4.4" height="12.5"/>
<rect x="1757.2" y="1390" width="4.4" height="12.5"/>
</g>
<g font-family="'Liberation Sans', Arial, sans-serif" fill="#000">
<text transform="translate(421.43,1513.00) scale(1.0,1.025)" x="0.00" y="0" font-size="105.7">3000</text>
<text transform="translate(770.10,1513.00) scale(1.0,1.025)" x="0.00" y="0" font-size="105.7">2500</text>
<text transform="translate(1118.78,1513.00) scale(1.0,1.025)" x="0.00" y="0" font-size="105.7">2000</text>
<text transform="translate(1467.45,1513.00) scale(1.0,1.025)" x="0.00" y="0" font-size="105.7" clip-path="url(#c1)">1500</text>
<text transform="translate(1816.13,1513.00) scale(1.0,1.025)" x="0.00" y="0" font-size="105.7" clip-path="url(#c2)">1000</text>
<text transform="translate(181.84,119.50) scale(1.0,1.025)" x="0.00" y="0" font-size="105.7">600</text>
<text transform="translate(181.84,347.80) scale(1.0,1.025)" x="0.00" y="0" font-size="105.7">500</text>
<text transform="translate(181.84,576.10) scale(1.0,1.025)" x="0.00" y="0" font-size="105.7">400</text>
<text transform="translate(181.84,804.40) scale(1.0,1.025)" x="0.00" y="0" font-size="105.7">300</text>
<text transform="translate(181.84,1032.70) scale(1.0,1.025)" x="0.00" y="0" font-size="105.7">200</text>
<text transform="translate(181.84,1261.00) scale(1.0,1.025)" x="0.00" y="0" font-size="105.7" clip-path="url(#c3)">100</text>
<text transform="translate(115.5,1203.6) rotate(-90) scale(1,1.025)" x="0" y="0" font-size="106" style="font-kerning:normal">Transmittance / a.u.</text>
<text transform="translate(792.9,1697) scale(1,1.025)" x="0" y="0" font-size="106" style="font-kerning:normal">Wavenumber / cm</text>
<text transform="translate(1644.10,1652.30)" x="0.00" y="0" font-size="65">−</text>
<text transform="translate(1681.50,1647.20)" x="0.00" y="0" font-size="65" clip-path="url(#c4)">1</text>
<text transform="translate(1057.01,316.30) scale(1.0,1.025)" x="0.00" y="0" font-size="105.7">(7)</text>
<text transform="translate(1036.91,477.20) scale(1.0,1.025)" x="0.00" y="0" font-size="105.7">(6)</text>
<text transform="translate(1027.61,620.20) scale(1.0,1.025)" x="0.00" y="0" font-size="105.7">(5)</text>
<text transform="translate(1023.81,794.80) scale(1.0,1.025)" x="0.00" y="0" font-size="105.7">(4)</text>
<text transform="translate(1023.81,954.90) scale(1.0,1.025)" x="0.00" y="0" font-size="105.7">(3)</text>
<text transform="translate(1014.61,1116.60) scale(1.0,1.025)" x="0.00" y="0" font-size="105.7">(2)</text>
<text transform="translate(1016.41,1240.20) scale(1.0,1.025)" x="0.00" y="0" font-size="105.7" clip-path="url(#c5)">(1)</text>
<text transform="translate(552.33,378.72) rotate(-45) scale(0.86,1.0)" x="0.00" y="0" font-size="76" letter-spacing="6.88">3000-2800</text>
<text transform="translate(1586.93,383.52) rotate(-45) scale(0.86,1.0)" x="0.00" y="0" font-size="76" letter-spacing="6.88" clip-path="url(#c6)">1500-1250</text>
<text transform="translate(1869.73,375.22) rotate(-45) scale(0.86,1.0)" x="0.00" y="0" font-size="76" letter-spacing="6.88" clip-path="url(#c7)">1160-800</text>
</g></svg></body></html>
